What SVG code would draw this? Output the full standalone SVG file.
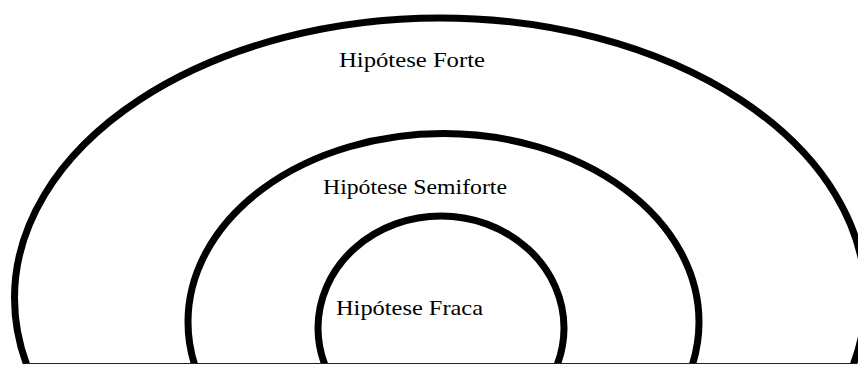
<svg xmlns="http://www.w3.org/2000/svg" width="858" height="365" viewBox="0 0 858 365">
  <style>
    .ring { fill: none; stroke: #000; stroke-width: 7; }
    .lbl { font-family: "Liberation Serif", "Times New Roman", serif; font-size: 22px; fill: #000; }
  </style>
  <defs>
    <clipPath id="cut">
      <rect x="0" y="0" width="858" height="364"/>
    </clipPath>
  </defs>
  <rect width="858" height="365" fill="#fff"/>
  <g id="forte" clip-path="url(#cut)">
    <ellipse class="ring" cx="440" cy="298" rx="425.5" ry="280"/>
    <text class="lbl" x="339" y="67" textLength="146" lengthAdjust="spacingAndGlyphs">Hipótese Forte</text>
  </g>
  <g id="semiforte" clip-path="url(#cut)">
    <ellipse class="ring" cx="443.5" cy="322" rx="255.5" ry="188.5"/>
    <text class="lbl" x="323" y="193.5" textLength="184" lengthAdjust="spacingAndGlyphs">Hipótese Semiforte</text>
  </g>
  <g id="fraca" clip-path="url(#cut)">
    <ellipse class="ring" cx="441" cy="328" rx="123" ry="112"/>
    <text class="lbl" x="336" y="315" textLength="147" lengthAdjust="spacingAndGlyphs">Hipótese Fraca</text>
  </g>
  <g id="connectors">
    <line x1="26" y1="363.5" x2="855" y2="363.5" stroke="#222" stroke-width="1.2"/>
  </g>
</svg>
